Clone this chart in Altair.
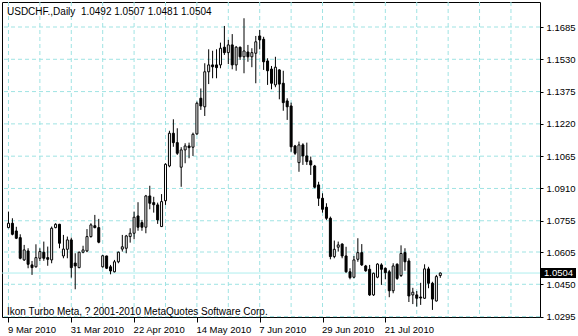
import altair as alt
import pandas as pd

# ---- data ----
opens = [1.0722, 1.0743, 1.0706, 1.0674, 1.0567, 1.0610, 1.0543, 1.0534, 1.0575, 1.0604,
         1.0578, 1.0567, 1.0722, 1.0738, 1.0586, 1.0618, 1.0663, 1.0552, 1.0530, 1.0604,
         1.0610, 1.0679, 1.0731, 1.0722, 1.0534, 1.0586, 1.0534, 1.0510, 1.0558, 1.0619,
         1.0623, 1.0679, 1.0695, 1.0778, 1.0746, 1.0724, 1.0874, 1.0842, 1.0831, 1.0727,
         1.0851, 1.1018, 1.1175, 1.1130, 1.1012, 1.1095, 1.1114, 1.1108, 1.1172, 1.1343,
         1.1302, 1.1470, 1.1503, 1.1503, 1.1503, 1.1588, 1.1562, 1.1599, 1.1503, 1.1588,
         1.1542, 1.1565, 1.1542, 1.1559, 1.1642, 1.1626, 1.1522, 1.1483, 1.1407, 1.1479,
         1.1415, 1.1330, 1.1306, 1.1114, 1.1034, 1.1119, 1.1066, 1.1043, 1.1018, 1.0927,
         1.0863, 1.0820, 1.0767, 1.0583, 1.0628, 1.0643, 1.0586, 1.0510, 1.0484, 1.0570,
         1.0602, 1.0538, 1.0522, 1.0399, 1.0484, 1.0543, 1.0527, 1.0510, 1.0419, 1.0546,
         1.0492, 1.0602, 1.0562, 1.0399, 1.0399, 1.0389, 1.0383, 1.0524, 1.0455, 1.0370,
         1.0492]
highs = [1.0799, 1.0767, 1.0726, 1.0690, 1.0639, 1.0623, 1.0562, 1.0642, 1.0623, 1.0655,
         1.0631, 1.0727, 1.0743, 1.0740, 1.0687, 1.0679, 1.0674, 1.0599, 1.0607, 1.0635,
         1.0715, 1.0743, 1.0783, 1.0764, 1.0591, 1.0587, 1.0543, 1.0567, 1.0607, 1.0687,
         1.0687, 1.0719, 1.0799, 1.0844, 1.0759, 1.0879, 1.0923, 1.0870, 1.0842, 1.0883,
         1.1031, 1.1187, 1.1242, 1.1199, 1.1108, 1.1127, 1.1130, 1.1178, 1.1327, 1.1390,
         1.1511, 1.1578, 1.1571, 1.1578, 1.1610, 1.1690, 1.1623, 1.1651, 1.1594, 1.1591,
         1.1727, 1.1599, 1.1583, 1.1642, 1.1671, 1.1638, 1.1535, 1.1498, 1.1542, 1.1482,
         1.1475, 1.1343, 1.1322, 1.1119, 1.1135, 1.1127, 1.1130, 1.1063, 1.1023, 1.0942,
         1.0887, 1.0839, 1.0775, 1.0660, 1.0655, 1.0647, 1.0630, 1.0527, 1.0586, 1.0671,
         1.0643, 1.0543, 1.0543, 1.0506, 1.0551, 1.0551, 1.0531, 1.0519, 1.0551, 1.0551,
         1.0637, 1.0623, 1.0575, 1.0433, 1.0418, 1.0457, 1.0546, 1.0534, 1.0462, 1.0495,
         1.0507]
lows = [1.0719, 1.0685, 1.0667, 1.0570, 1.0562, 1.0527, 1.0495, 1.0530, 1.0562, 1.0563,
        1.0539, 1.0551, 1.0719, 1.0623, 1.0575, 1.0575, 1.0482, 1.0426, 1.0527, 1.0599,
        1.0604, 1.0674, 1.0719, 1.0647, 1.0530, 1.0523, 1.0498, 1.0507, 1.0551, 1.0607,
        1.0599, 1.0650, 1.0666, 1.0707, 1.0707, 1.0695, 1.0810, 1.0794, 1.0740, 1.0725,
        1.0831, 1.1012, 1.1110, 1.1071, 1.0918, 1.1031, 1.1055, 1.1066, 1.1167, 1.1287,
        1.1258, 1.1411, 1.1439, 1.1439, 1.1487, 1.1551, 1.1507, 1.1482, 1.1475, 1.1527,
        1.1463, 1.1518, 1.1492, 1.1415, 1.1578, 1.1479, 1.1407, 1.1386, 1.1396, 1.1338,
        1.1283, 1.1239, 1.1086, 1.1071, 1.0990, 1.1023, 1.1023, 1.0975, 1.0911, 1.0826,
        1.0794, 1.0759, 1.0570, 1.0575, 1.0607, 1.0575, 1.0505, 1.0474, 1.0479, 1.0558,
        1.0538, 1.0510, 1.0394, 1.0394, 1.0479, 1.0447, 1.0474, 1.0388, 1.0407, 1.0471,
        1.0485, 1.0515, 1.0365, 1.0355, 1.0343, 1.0351, 1.0380, 1.0431, 1.0327, 1.0367,
        1.0481]
closes = [1.0743, 1.0690, 1.0671, 1.0575, 1.0615, 1.0546, 1.0530, 1.0578, 1.0607, 1.0575,
          1.0570, 1.0719, 1.0738, 1.0647, 1.0619, 1.0663, 1.0530, 1.0538, 1.0604, 1.0615,
          1.0679, 1.0735, 1.0722, 1.0652, 1.0587, 1.0527, 1.0514, 1.0558, 1.0604, 1.0630,
          1.0682, 1.0695, 1.0772, 1.0724, 1.0724, 1.0874, 1.0839, 1.0832, 1.0759, 1.0847,
          1.1026, 1.1175, 1.1130, 1.1079, 1.1095, 1.1114, 1.1106, 1.1170, 1.1319, 1.1306,
          1.1470, 1.1503, 1.1494, 1.1490, 1.1583, 1.1562, 1.1599, 1.1503, 1.1588, 1.1542,
          1.1570, 1.1542, 1.1562, 1.1614, 1.1623, 1.1518, 1.1475, 1.1415, 1.1492, 1.1411,
          1.1322, 1.1302, 1.1110, 1.1079, 1.1119, 1.1066, 1.1039, 1.1023, 1.0916, 1.0863,
          1.0810, 1.0767, 1.0583, 1.0618, 1.0639, 1.0586, 1.0510, 1.0482, 1.0567, 1.0602,
          1.0543, 1.0515, 1.0399, 1.0503, 1.0547, 1.0522, 1.0506, 1.0419, 1.0538, 1.0478,
          1.0598, 1.0558, 1.0394, 1.0412, 1.0383, 1.0384, 1.0524, 1.0455, 1.0379, 1.0487,
          1.0504]

date_tick_idx = [0, 16, 32, 48, 64, 80, 96]
date_tick_labels = ["9 Mar 2010", "31 Mar 2010", "22 Apr 2010", "14 May 2010",
                    "7 Jun 2010", "29 Jun 2010", "21 Jul 2010"]
vgrid_idx = [0, 8, 16, 24, 32, 40, 48, 56, 64, 72, 80, 88, 96, 104, 112, 120, 128]
price_ticks = [1.1685, 1.1530, 1.1375, 1.1220, 1.1065, 1.0910, 1.0755, 1.0605, 1.0450, 1.0295]
bid_price = [1.0504]
title_text = ["USDCHF.,Daily\u00a0 1.0492 1.0507 1.0481 1.0504"]
footer_text = ["Ikon Turbo Meta, ? 2001-2010 MetaQuotes Software Corp."]

# ---- tables ----
n = len(opens)
candles = pd.DataFrame({
    "idx": list(range(n)),
    "open": opens, "high": highs, "low": lows, "close": closes,
})
candles["dir"] = ["up" if c >= o else "down" for o, c in zip(opens, closes)]

FONT = "Liberation Sans"
GRID = "#9fe3e3"
xs = alt.Scale(domain=[-0.375, 134.125], nice=False, zero=False)
ys = alt.Scale(domain=[1.0293, 1.1805], nice=False, zero=False)

label_expr = "''"
for v, l in reversed(list(zip(date_tick_idx, date_tick_labels))):
    label_expr = f"datum.value == {v} ? '{l}' : {label_expr}"

x_axis = alt.Axis(values=date_tick_idx, labelExpr=label_expr, grid=False, domain=False,
                  tickSize=5, tickColor="black", labelAlign="left", labelBaseline="top",
                  labelPadding=2, labelOffset=-1, labelFont=FONT, labelFontSize=9.5,
                  labelColor="black", labelOverlap=False, labelFlush=False, title=None)
y_axis = alt.Axis(orient="right", values=price_ticks, format=".4f", grid=False, domain=False,
                  tickSize=3, tickColor="black", labelAlign="left", labelBaseline="middle",
                  labelPadding=3, labelFont=FONT, labelFontSize=9.5, labelColor="black",
                  labelOverlap=False, labelFlush=False, title=None)


def X(field):
    return alt.X(field, scale=xs, axis=x_axis, title=None)


def Y(field):
    return alt.Y(field, scale=ys, axis=y_axis, title=None)


hgrid = alt.Chart(pd.DataFrame({"p": price_ticks})).mark_rule(
    color=GRID, strokeDash=[4, 3], strokeWidth=1
).encode(y=Y("p:Q"))

vgrid = alt.Chart(pd.DataFrame({"i": vgrid_idx})).mark_rule(
    color=GRID, strokeDash=[4, 3], strokeWidth=1
).encode(x=X("i:Q"))

bidline = alt.Chart(pd.DataFrame({"p": bid_price})).mark_rule(
    color="#aeeeee", strokeWidth=1
).encode(y=Y("p:Q"))

wicks = alt.Chart(candles).mark_rule(color="black", strokeWidth=1).encode(
    x=X("idx:Q"),
    y=Y("low:Q"),
    y2="high:Q",
)

bodies = alt.Chart(candles).mark_bar(size=2, stroke="black", strokeWidth=1).encode(
    x=X("idx:Q"),
    y=Y("open:Q"),
    y2="close:Q",
    color=alt.Color("dir:N", scale=alt.Scale(domain=["up", "down"], range=["white", "black"]),
                    legend=None),
)

title = alt.Chart(pd.DataFrame({"t": title_text})).mark_text(
    align="left", baseline="middle", font=FONT, fontSize=10, color="black"
).encode(x=alt.value(5), y=alt.value(10), text="t:N")

footer = alt.Chart(pd.DataFrame({"t": footer_text})).mark_text(
    align="left", baseline="middle", font=FONT, fontSize=10, color="black"
).encode(x=alt.value(5), y=alt.value(310), text="t:N")

bidbox = alt.Chart(pd.DataFrame({"p": bid_price})).mark_rect(
    color="black", yOffset=-5, y2Offset=5
).encode(
    x=alt.value(539), x2=alt.value(574),
    y=Y("p:Q"), y2="p:Q",
)

bidtext = alt.Chart(pd.DataFrame({"p": bid_price})).mark_text(
    align="left", baseline="middle", font=FONT, fontSize=9.5, color="white"
).encode(
    x=alt.value(542), y=Y("p:Q"), text=alt.Text("p:Q", format=".4f"),
)

chart = alt.layer(
    hgrid, vgrid, bidline, wicks, bodies, title, footer, bidbox, bidtext
).properties(
    width=538, height=315,
    padding={"left": 2, "top": 2, "right": 38, "bottom": 19},
    autosize=alt.AutoSizeParams(type="none"),
    background="white",
).configure_view(stroke="black", strokeWidth=1)

chart.save("out.html", embed_options={"renderer": "svg", "actions": False})
